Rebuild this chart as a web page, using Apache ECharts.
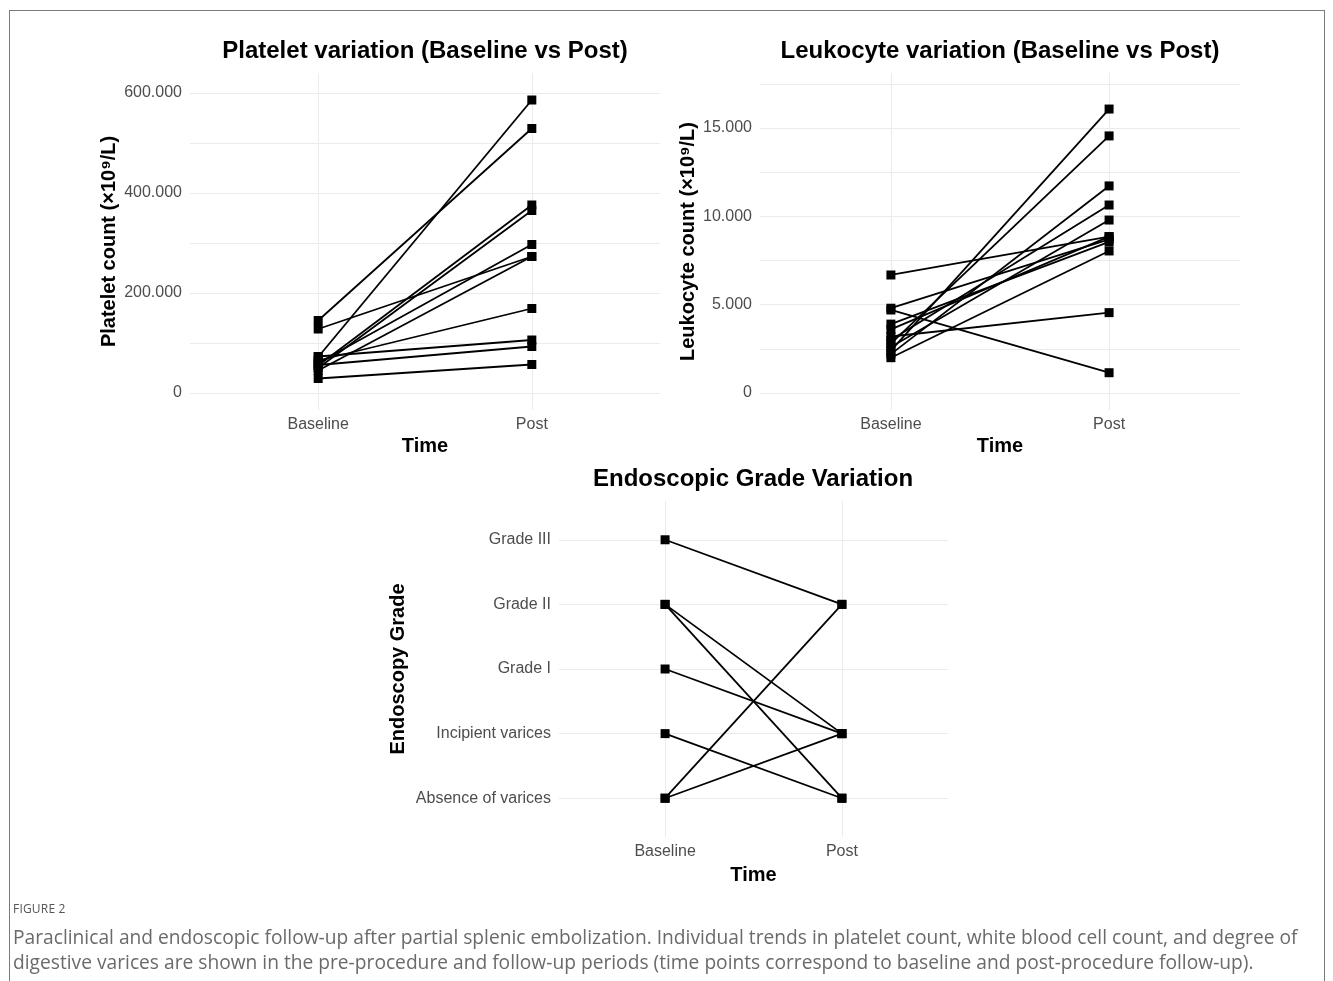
<!DOCTYPE html>
<html>
<head>
<meta charset="utf-8">
<script src="https://cdn.jsdelivr.net/npm/echarts@6/dist/echarts.min.js"></script>
<style>
  html, body { margin:0; padding:0; background:#fff; width:1333px; height:981px; overflow:hidden; }
  #frame { position:absolute; left:9px; top:10px; width:1316px; height:1000px; border:1.5px solid #7a7a7a; box-sizing:border-box; }
  #chart { position:absolute; left:0; top:0; width:1333px; height:981px; }
  .cap { position:absolute; left:13px; font-family:"Open Sans", "Noto Sans", sans-serif; color:#6a6a6a; white-space:nowrap; line-height:1.3; }
  #figlabel { top:901px; font-size:12px; color:#555; letter-spacing:0.2px; line-height:16px; }
  #cap1 { top:925px; font-size:19.2px; }
  #cap2 { top:950px; font-size:19.2px; }
</style>
</head>
<body>
<div id="frame"></div>
<div id="chart"></div>
<div class="cap" id="figlabel">FIGURE 2</div>
<div class="cap" id="cap1">Paraclinical and endoscopic follow-up after partial splenic embolization. Individual trends in platelet count, white blood cell count, and degree of</div>
<div class="cap" id="cap2">digestive varices are shown in the pre-procedure and follow-up periods (time points correspond to baseline and post-procedure follow-up).</div>
<script>
// ---- data ----
const timeLabels = ['Baseline', 'Post'];

const plateletBaseline = [72000, 145000, 55000, 50000, 60000, 128000, 45000, 65000, 73000, 56000, 29000];
const plateletPost     = [586000, 529000, 376000, 365000, 297000, 273000, 273000, 169000, 106000, 93000, 57000];
const plateletTicks = [0, 200000, 400000, 600000];
const plateletGrid  = [0, 100000, 200000, 300000, 400000, 500000, 600000];

const leukocyteBaseline = [2400, 2800, 2200, 3000, 2600, 6680, 4800, 3600, 3900, 2000, 3200, 4700];
const leukocytePost     = [16070, 14550, 11720, 10640, 9790, 8850, 8700, 8850, 8550, 8040, 4550, 1150];
const leukocyteTicks = [0, 5000, 10000, 15000];
const leukocyteGrid  = [0, 2500, 5000, 7500, 10000, 12500, 15000, 17500];

const gradeLabels = ['Absence of varices', 'Incipient varices', 'Grade I', 'Grade II', 'Grade III'];
const gradeBaseline = [4, 3, 3, 2, 1, 0, 0];
const gradePost     = [3, 1, 0, 1, 0, 3, 1];
const gradeTicks = [0, 1, 2, 3, 4];

// ---- chart ----
const FONT = '"Liberation Sans", Arial, Helvetica, sans-serif';
const GRID_COLOR = '#ebebeb';
const fmt = v => String(Math.round(v)).replace(/\B(?=(\d{3})+(?!\d))/g, '.');

function xAxisFor(gi, nameGap) {
  return {
    type: 'value', gridIndex: gi, min: -0.6, max: 1.6,
    axisLine: { show: false },
    axisTick: { show: false, customValues: [0, 1] },
    axisLabel: { customValues: [0, 1], formatter: v => timeLabels[Math.round(v)] || '',
      color: '#4d4d4d', fontSize: 16, margin: 7, fontFamily: FONT },
    splitLine: { show: true, lineStyle: { color: GRID_COLOR, width: 1 } },
    name: 'Time', nameLocation: 'middle', nameGap: nameGap,
    nameTextStyle: { fontWeight: 'bold', fontSize: 20, color: '#000', fontFamily: FONT }
  };
}
function yAxisFor(gi, min, max, gridVals, labelVals, formatter, name, nameGap) {
  return {
    type: 'value', gridIndex: gi, min: min, max: max,
    axisLine: { show: false },
    axisTick: { show: false, customValues: gridVals },
    axisLabel: { customValues: labelVals, formatter: formatter,
      color: '#4d4d4d', fontSize: 16, margin: 8, fontFamily: FONT },
    splitLine: { show: true, lineStyle: { color: GRID_COLOR, width: 1 } },
    name: name, nameLocation: 'middle', nameGap: nameGap, nameRotate: 90,
    nameTextStyle: { fontWeight: 'bold', fontSize: 20, color: '#000', fontFamily: FONT }
  };
}
function pairSeries(gi, base, post) {
  return base.map((b, i) => ({
    type: 'line', xAxisIndex: gi, yAxisIndex: gi,
    data: [[0, b], [1, post[i]]],
    symbol: 'rect', symbolSize: 9, showSymbol: true,
    itemStyle: { color: '#000' },
    lineStyle: { color: '#000', width: 1.8 },
    silent: true, animation: false, z: 3
  }));
}

const chart = echarts.init(document.getElementById('chart'), null, { renderer: 'canvas' });
chart.setOption({
  animation: false,
  backgroundColor: 'transparent',
  title: [
    { text: 'Platelet variation (Baseline vs Post)', left: 420, top: 34, textAlign: 'center',
      textStyle: { fontSize: 24, fontWeight: 'bold', color: '#000', fontFamily: FONT } },
    { text: 'Leukocyte variation (Baseline vs Post)', left: 995, top: 34, textAlign: 'center',
      textStyle: { fontSize: 24, fontWeight: 'bold', color: '#000', fontFamily: FONT } },
    { text: 'Endoscopic Grade Variation', left: 748, top: 462, textAlign: 'center',
      textStyle: { fontSize: 24, fontWeight: 'bold', color: '#000', fontFamily: FONT } }
  ],
  grid: [
    { left: 190, top: 73, width: 470, height: 337 },
    { left: 760, top: 73, width: 480, height: 337 },
    { left: 559, top: 501, width: 389, height: 336 }
  ],
  xAxis: [xAxisFor(0, 26), xAxisFor(1, 26), xAxisFor(2, 28)],
  yAxis: [
    yAxisFor(0, -34000, 640000, plateletGrid, plateletTicks, fmt, 'Platelet count (×10⁹/L)', 71),
    yAxisFor(1, -960, 18110, leukocyteGrid, leukocyteTicks, fmt, 'Leukocyte count (×10⁹/L)', 62),
    yAxisFor(2, -0.6, 4.6, gradeTicks, gradeTicks, v => gradeLabels[Math.round(v)] || '', 'Endoscopy Grade', 151)
  ],
  series: [].concat(
    pairSeries(0, plateletBaseline, plateletPost),
    pairSeries(1, leukocyteBaseline, leukocytePost),
    pairSeries(2, gradeBaseline, gradePost)
  )
});
</script>
</body>
</html>
